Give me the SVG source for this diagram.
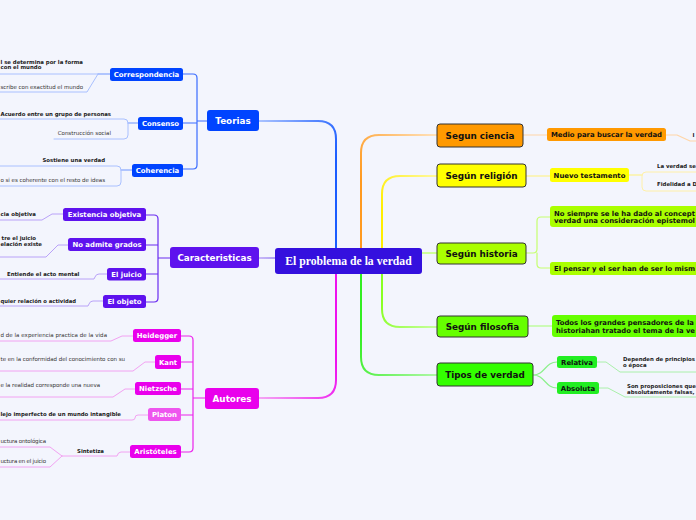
<svg xmlns="http://www.w3.org/2000/svg" width="696" height="520" viewBox="0 0 696 520">
<style>
.bg{fill:#F3F5FD}
.main{font-family:"DejaVu Sans",Verdana,sans-serif;font-weight:bold;font-size:8.8px;text-anchor:middle}
.sub{font-family:"DejaVu Sans",Verdana,sans-serif;font-weight:bold;font-size:6.9px;text-anchor:middle}
.subl{font-family:"DejaVu Sans",Verdana,sans-serif;font-weight:bold;font-size:6.85px}
.lb{font-family:"DejaVu Sans",Verdana,sans-serif;font-weight:bold;font-size:5.4px;fill:#222}
.ln{font-family:"DejaVu Sans",Verdana,sans-serif;font-size:5.5px;fill:#333}
.end{text-anchor:end}
.w{fill:#fff}
.k{fill:#111}
.bd{stroke:#333;stroke-width:1}
.c{fill:none;stroke-linecap:round;stroke-linejoin:round}
.m{stroke-width:2}
.s{stroke-width:1.2}
.l{stroke-width:1}
</style>
<defs>
<linearGradient id="gT" gradientUnits="userSpaceOnUse" x1="259" y1="121" x2="336" y2="160"><stop offset="0" stop-color="#A9C2FF"/><stop offset="1" stop-color="#1A5CFF"/></linearGradient>
<linearGradient id="gA" gradientUnits="userSpaceOnUse" x1="259" y1="398" x2="336" y2="360"><stop offset="0" stop-color="#F4A6F4"/><stop offset="1" stop-color="#EE11EE"/></linearGradient>
<linearGradient id="gC" gradientUnits="userSpaceOnUse" x1="259" y1="258" x2="275" y2="258"><stop offset="0" stop-color="#C8B8F8"/><stop offset="1" stop-color="#B0A0F4"/></linearGradient>
<linearGradient id="gO" gradientUnits="userSpaceOnUse" x1="361" y1="180" x2="437" y2="135"><stop offset="0" stop-color="#FF9A20"/><stop offset="1" stop-color="#FFE2BC"/></linearGradient>
<linearGradient id="gY" gradientUnits="userSpaceOnUse" x1="382" y1="210" x2="437" y2="176"><stop offset="0" stop-color="#FFEE00"/><stop offset="1" stop-color="#FFF8A0"/></linearGradient>
<linearGradient id="gF" gradientUnits="userSpaceOnUse" x1="382" y1="300" x2="437" y2="327"><stop offset="0" stop-color="#88FF22"/><stop offset="1" stop-color="#C8FFA0"/></linearGradient>
<linearGradient id="gG" gradientUnits="userSpaceOnUse" x1="361" y1="330" x2="437" y2="375"><stop offset="0" stop-color="#33EE22"/><stop offset="1" stop-color="#B0F8A8"/></linearGradient>
</defs>
<rect class="bg" x="0" y="0" width="696" height="520"/>

<g id="connectors">
<path class="c m" stroke="url(#gT)" d="M259,121 H318 Q336,121 336,139 V248"/>
<path class="c m" stroke="url(#gC)" d="M259,258 H275"/>
<path class="c m" stroke="url(#gA)" d="M336,274 V380 Q336,398 318,398 H259"/>
<path class="c m" stroke="url(#gO)" d="M361,248 V153 Q361,135 379,135 H437"/>
<path class="c m" stroke="url(#gY)" d="M382,248 V194 Q382,176 400,176 H437"/>
<path class="c m" stroke="#CFFF99" d="M422,253 H437"/>
<path class="c m" stroke="url(#gF)" d="M382,274 V309 Q382,327 400,327 H437"/>
<path class="c m" stroke="url(#gG)" d="M361,274 V357 Q361,375 379,375 H437"/>
<path class="c s" stroke="#3A6CFF" d="M207,121 H197 M183,74 H193 Q197,74 197,78 V165 Q197,169 193,169 H183 M197,123 H183"/>
<path class="c s" stroke="#6F95FF" d="M110,74 H98"/>
<path class="c l" stroke="#A9C0FF" d="M98,74 H0 M98,74 L87,92 H0"/>
<path class="c s" stroke="#6F95FF" d="M138,123 H128"/>
<path class="c l" stroke="#A9C0FF" d="M0,119 H124 Q128,119 128,123 V135 Q128,139 124,139 H54"/>
<path class="c s" stroke="#6F95FF" d="M132,170 H121"/>
<path class="c l" stroke="#A9C0FF" d="M0,166 H117 Q121,166 121,170 V182 Q121,186 117,186 H0"/>
<path class="c s" stroke="#6A2CF0" d="M170,258 H158 M146,215 H154 Q158,215 158,219 V298 Q158,302 154,302 H146 M158,245 H146 M158,274 H146"/>
<path class="c l" stroke="#B9A2F8" d="M63,214 H52 L42,220 H0 M68,245 H58 L46,257 H0 M107,274 H99 Q96,274 95,277 L94,279 H0 M103,301 H93 Q90,301 89,304 L88,306 H0"/>
<path class="c s" stroke="#EC22EC" d="M205,398 H193 M181,336 H189 Q193,336 193,340 V448 Q193,452 189,452 H181 M193,362 H181 M193,389 H181 M193,415 H181"/>
<path class="c l" stroke="#F2A2F2" d="M133,336 H122 L111,341 H0 M155,362 H145 L133,371 H0 M135,389 H125 L113,397 H0 M148,415 H138 Q135,415 135,418 Q135,420 132,420 H0 M130,452 H121 Q118,452 117,456 H62 M62,456 L50,447 H0 M62,456 L50,467 H0"/>
<path class="c s" stroke="#FFD6A8" d="M523,135 H547 M666,135 H677 L690,141 H696"/>
<path class="c s" stroke="#FFF27A" d="M526,176 H550 M629,175 H642"/>
<path class="c l" stroke="#FFF0A8" d="M696,172 H646 Q642,172 642,176 V187 Q642,191 646,191 H696"/>
<path class="c s" stroke="#C6FF70" d="M526,253 H533 Q537,253 537,249 V221 Q537,217 541,217 H550 M537,253 V264 Q537,268 541,268 H550"/>
<path class="c s" stroke="#A6FF70" d="M528,326 H552"/>
<path class="c s" stroke="#8CF08C" d="M533,375 C545,375 545,362 557,362 M533,375 C545,375 545,388 557,388"/>
<path class="c l" stroke="#AAF0AA" d="M597,362 H606 L620,372 H696 M599,388 H608 L625,397 H696"/>
</g>

<g id="center">
<rect x="275" y="248" width="147" height="26" rx="3" fill="#3410DE"/>
<text x="348.5" y="265" fill="#fff" font-family="'Liberation Serif','Times New Roman',serif" font-weight="bold" font-size="11.7" text-anchor="middle">El problema de la verdad</text>
</g>

<g id="teorias">
<rect x="207" y="110" width="52" height="21" rx="3" fill="#0044FF"/>
<text class="main w" x="233" y="124">Teorias</text>
</g>
<g id="correspondencia">
<rect x="110" y="68" width="73" height="13" rx="2.5" fill="#0044FF"/>
<text class="sub w" x="146.5" y="77">Correspondencia</text>
<text class="lb" x="0.5" y="63.5" textLength="82.5" lengthAdjust="spacing">l se determina por la forma</text>
<text class="lb" x="0.5" y="69">con el mundo</text>
<text class="ln" x="0.5" y="89" textLength="82.5" lengthAdjust="spacing">scribe con exactitud el mundo</text>
</g>
<g id="consenso">
<rect x="138" y="117" width="45" height="13" rx="2.5" fill="#0044FF"/>
<text class="sub w" x="160.5" y="126">Consenso</text>
<text class="lb" x="0.5" y="116" textLength="110.5" lengthAdjust="spacing">Acuerdo entre un grupo de personas</text>
<text class="ln end" x="111" y="135">Construcción social</text>
</g>
<g id="coherencia">
<rect x="132" y="164" width="51" height="13" rx="2.5" fill="#0044FF"/>
<text class="sub w" x="157.5" y="173">Coherencia</text>
<text class="lb end" x="105" y="162">Sostiene una verdad</text>
<text class="ln" x="0.5" y="182" textLength="104.5" lengthAdjust="spacing">o si es coherente con el resto de ideas</text>
</g>

<g id="caracteristicas">
<rect x="170" y="247" width="89" height="21" rx="3" fill="#5E12EE"/>
<text class="main w" x="214.5" y="260.5">Caracteristicas</text>
</g>
<g id="existencia">
<rect x="63" y="208" width="83" height="13" rx="2.5" fill="#5E12EE"/>
<text class="sub w" x="104.5" y="217">Existencia objetiva</text>
<text class="lb" x="0.5" y="216" textLength="35.5" lengthAdjust="spacing">cia objetiva</text>
</g>
<g id="grados">
<rect x="68" y="238" width="78" height="13" rx="2.5" fill="#5E12EE"/>
<text class="sub w" x="107" y="247">No admite grados</text>
<text class="lb end" x="36" y="240">tre el juicio</text>
<text class="lb" x="0.5" y="246" textLength="41.5" lengthAdjust="spacing">elación existe</text>
</g>
<g id="juicio">
<rect x="107" y="268" width="39" height="12.5" rx="2.5" fill="#5E12EE"/>
<text class="sub w" x="126.5" y="276.7">El juicio</text>
<text class="lb" x="7" y="276">Entiende el acto mental</text>
</g>
<g id="objeto">
<rect x="103" y="295" width="43" height="13" rx="2.5" fill="#5E12EE"/>
<text class="sub w" x="124.5" y="304">El objeto</text>
<text class="lb" x="0.5" y="303" textLength="75.5" lengthAdjust="spacingAndGlyphs">quier relación o actividad</text>
</g>

<g id="autores">
<rect x="205" y="388" width="54" height="21" rx="3" fill="#E900EC"/>
<text class="main w" x="232" y="401.5">Autores</text>
</g>
<g id="heidegger">
<rect x="133" y="329" width="48" height="13" rx="2.5" fill="#E900EC"/>
<text class="sub w" x="157" y="338">Heidegger</text>
<text class="ln" x="0.5" y="337" textLength="106.5" lengthAdjust="spacing">d de la experiencia practica de la vida</text>
</g>
<g id="kant">
<rect x="155" y="355" width="26" height="14" rx="2.5" fill="#E900EC"/>
<text class="sub w" x="168" y="364.5">Kant</text>
<text class="ln" x="0.5" y="361" textLength="124.5" lengthAdjust="spacing">te en la conformidad del conocimiento con su</text>
</g>
<g id="nietzsche">
<rect x="135" y="382" width="46" height="13" rx="2.5" fill="#E900EC"/>
<text class="sub w" x="158" y="391">Nietzsche</text>
<text class="ln" x="0.5" y="387" textLength="99.5" lengthAdjust="spacing">e la realidad corresponde una nueva</text>
</g>
<g id="platon">
<rect x="148" y="408" width="33" height="13" rx="2.5" fill="#EE55EE"/>
<text class="sub w" x="164.5" y="417">Platon</text>
<text class="lb" x="0.5" y="416" textLength="120.5" lengthAdjust="spacingAndGlyphs">lejo imperfecto de un mundo intangible</text>
</g>
<g id="aristoteles">
<rect x="130" y="445" width="51" height="13" rx="2.5" fill="#E900EC"/>
<text class="sub w" x="155.5" y="454">Aristóteles</text>
<text class="lb" x="77" y="453">Sintetiza</text>
<text class="ln" x="0.5" y="443" textLength="45.5" lengthAdjust="spacing">uctura ontológica</text>
<text class="ln" x="0.5" y="463" textLength="45.5" lengthAdjust="spacing">uctura en el juicio</text>
</g>

<g id="ciencia">
<rect x="437" y="124" width="86" height="23" rx="3" fill="#FF9900" class="bd"/>
<text class="main k" x="480" y="138.5">Segun ciencia</text>
</g>
<g id="medio">
<rect x="547" y="128" width="119" height="13" rx="2.5" fill="#FF9900"/>
<text class="sub k" x="606.5" y="137">Medio para buscar la verdad</text>
<text class="lb" x="692.5" y="137">I</text>
</g>
<g id="religion">
<rect x="437" y="164" width="89" height="23" rx="3" fill="#FFFF00" class="bd"/>
<text class="main k" x="481.5" y="178.5">Según religión</text>
</g>
<g id="nuevo">
<rect x="550" y="168" width="79" height="14" rx="2.5" fill="#FFFF00"/>
<text class="sub k" x="589.5" y="177.5">Nuevo testamento</text>
<text class="lb" x="657" y="167.5">La verdad se</text>
<text class="lb" x="657" y="186">Fidelidad a D</text>
</g>
<g id="historia">
<rect x="437" y="243" width="89" height="21" rx="3" fill="#AAFF00" class="bd"/>
<text class="main k" x="481.5" y="256.5">Según historia</text>
</g>
<g id="historia1">
<rect x="550" y="206" width="150" height="21" rx="3" fill="#AAFF00"/>
<text class="subl k" x="554" y="215.5" textLength="141" lengthAdjust="spacingAndGlyphs">No siempre se le ha dado al concept</text>
<text class="subl k" x="554" y="222.8" textLength="141" lengthAdjust="spacingAndGlyphs">verdad una consideración epistemol</text>
</g>
<g id="historia2">
<rect x="550" y="262" width="150" height="13" rx="2.5" fill="#AAFF00"/>
<text class="subl k" x="554" y="271" textLength="141" lengthAdjust="spacingAndGlyphs">El pensar y el ser han de ser lo mism</text>
</g>
<g id="filosofia">
<rect x="437" y="316" width="91" height="21" rx="3" fill="#66FF00" class="bd"/>
<text class="main k" x="482.5" y="329.5">Según filosofia</text>
</g>
<g id="filosofia1">
<rect x="552" y="315" width="150" height="22" rx="3" fill="#66FF00"/>
<text class="subl k" x="556" y="325">Todos los grandes pensadores de la</text>
<text class="subl k" x="556" y="333.4" textLength="139" lengthAdjust="spacingAndGlyphs">historiahan tratado el tema de la ve</text>
</g>
<g id="tipos">
<rect x="437" y="363" width="96" height="23" rx="3" fill="#33FF00" class="bd"/>
<text class="main k" x="485" y="378">Tipos de verdad</text>
</g>
<g id="relativa">
<rect x="557" y="356" width="40" height="12" rx="2.5" fill="#22EE22"/>
<text class="sub k" x="577" y="364.5">Relativa</text>
<text class="lb" x="623" y="361">Dependen de principios</text>
<text class="lb" x="623" y="367">o época</text>
</g>
<g id="absoluta">
<rect x="557" y="382" width="42" height="12" rx="2.5" fill="#22EE22"/>
<text class="sub k" x="578" y="390.5">Absoluta</text>
<text class="lb" x="627" y="387.5">Son proposiciones que</text>
<text class="lb" x="627" y="394">absolutamente falsas,</text>
</g>
</svg>
